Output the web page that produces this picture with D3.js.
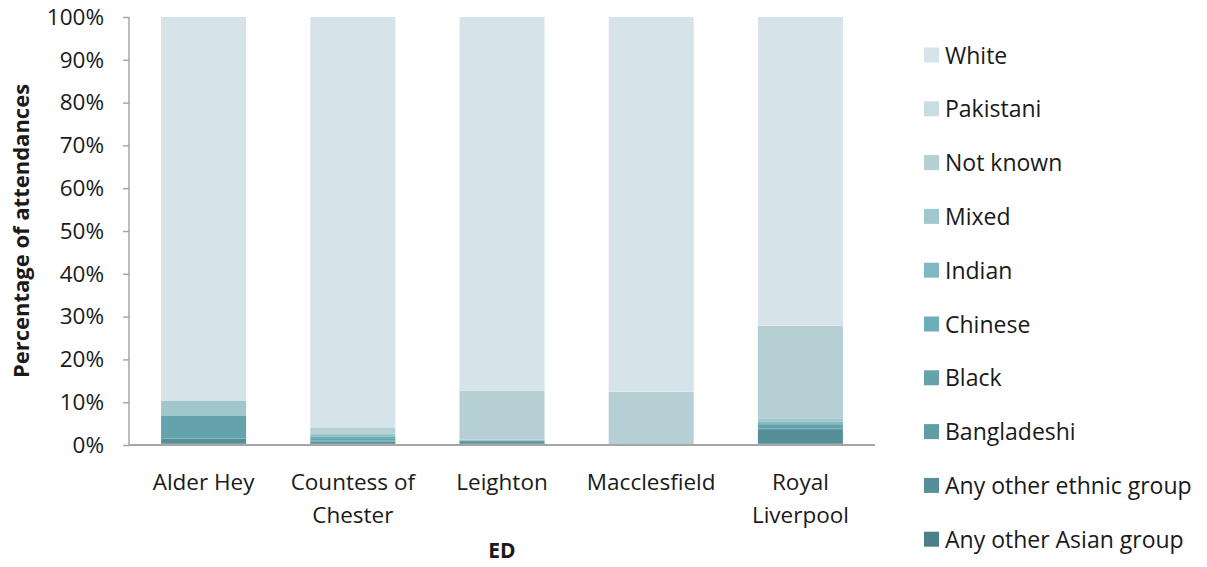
<!DOCTYPE html>
<html>
<head>
<meta charset="utf-8">
<script src="https://cdn.jsdelivr.net/npm/d3@7"></script>
<style>
  body { margin: 0; background: #fff; }
  text { font-family: "Open Sans", sans-serif; fill: #1a1a1a; }
</style>
</head>
<body>
<svg width="1207" height="567"></svg>
<script>
// categories (EDs)
let eds = ["Alder Hey", "Countess of Chester", "Leighton", "Macclesfield", "Royal Liverpool"];
let edLines = [["Alder Hey"], ["Countess of", "Chester"], ["Leighton"], ["Macclesfield"], ["Royal", "Liverpool"]];

// series, bottom of stack first
let groups = ["Any other Asian group", "Any other ethnic group", "Bangladeshi", "Black", "Chinese",
  "Indian", "Mixed", "Not known", "Pakistani", "White"];
let colours = ["#4d7f88", "#578f98", "#5f9ea5", "#64a3ab", "#6aaeb8",
  "#7fb8c0", "#a1c6cc", "#b5cfd5", "#c9dce1", "#d6e3e8"];

// percentages per ED (same order as eds)
let anyOtherAsian = [0.3, 0.3, 0.3, 0.02, 0.3];
let anyOtherEthnic = [1.1, 0.5, 0.6, 0.02, 3.2];
let bangladeshi = [0.1, 0.2, 0.05, 0.02, 0.3];
let black = [5.3, 0.6, 0.1, 0.02, 0.9];
let chinese = [0.1, 0.4, 0.05, 0.02, 0.4];
let indian = [0.1, 0.3, 0.1, 0.02, 0.4];
let mixed = [3.3, 0.3, 0.1, 0.02, 0.6];
let notKnown = [0.1, 1.5, 11.4, 12.3, 21.7];
let pakistani = [0.1, 0.1, 0.05, 0.02, 0.1];
let white = [89.5, 95.8, 87.25, 87.54, 72.1];

let yTicks = [0, 10, 20, 30, 40, 50, 60, 70, 80, 90, 100];

let series = [anyOtherAsian, anyOtherEthnic, bangladeshi, black, chinese, indian, mixed, notKnown, pakistani, white];

let rows = eds.map(function(ed, i) {
  let row = { ed: ed };
  groups.forEach(function(g, j) { row[g] = series[j][i]; });
  return row;
});

let svg = d3.select("svg");
let plotLeft = 129, plotRight = 875, plotTop = 17, plotBottom = 445;

let xScale = d3.scaleBand().domain(eds).range([plotLeft, plotRight]).paddingInner(0.43).paddingOuter(0.215);
let yScale = d3.scaleLinear().domain([0, 100]).range([plotBottom, plotTop]);

let stacked = d3.stack().keys(groups)(rows);

svg.append("g")
  .selectAll("g")
  .data(stacked)
  .enter()
  .append("g")
  .attr("fill", function(d, i) { return colours[i]; })
  .selectAll("rect")
  .data(function(d) { return d; })
  .enter()
  .append("rect")
  .attr("x", function(d) { return xScale(d.data.ed); })
  .attr("width", xScale.bandwidth())
  .attr("y", function(d) { return yScale(d[1]); })
  .attr("height", function(d) { return yScale(d[0]) - yScale(d[1]); });

// y axis
let yAxis = svg.append("g")
  .attr("transform", "translate(" + plotLeft + ",0)")
  .call(d3.axisLeft(yScale).tickValues(yTicks).tickSize(6).tickPadding(19)
    .tickFormat(function(d) { return d + "%"; }));
yAxis.selectAll("line, path").attr("stroke", "#a6a6a6").attr("stroke-width", 1.5);
yAxis.select("path").attr("d", "M0," + plotTop + "V" + plotBottom);
yAxis.selectAll("text").style("font-size", "22.5px").attr("fill", "#1a1a1a");

// x axis line
svg.append("line")
  .attr("x1", plotLeft).attr("x2", plotRight)
  .attr("y1", plotBottom).attr("y2", plotBottom)
  .attr("stroke", "#a6a6a6").attr("stroke-width", 2);

// x labels
svg.append("g")
  .selectAll("text")
  .data(eds)
  .enter()
  .append("text")
  .attr("text-anchor", "middle")
  .style("font-size", "22.5px")
  .attr("transform", function(d) { return "translate(" + (xScale(d) + xScale.bandwidth() / 2) + ",490)"; })
  .each(function(d, i) {
    let t = d3.select(this);
    edLines[i].forEach(function(line, k) {
      t.append("tspan").attr("x", 0).attr("dy", k === 0 ? 0 : 33).text(line);
    });
  });

// axis titles
svg.append("text")
  .attr("transform", "translate(29," + ((plotTop + plotBottom) / 2) + ") rotate(-90)")
  .attr("text-anchor", "middle")
  .style("font-size", "22px").style("font-weight", "bold")
  .text("Percentage of attendances");

svg.append("text")
  .attr("x", (plotLeft + plotRight) / 2).attr("y", 558)
  .attr("text-anchor", "middle")
  .style("font-size", "21px").style("font-weight", "bold")
  .text("ED");

// legend, top entry is top of stack
let legendGroups = groups.slice().reverse();
let legendColours = colours.slice().reverse();

let legend = svg.append("g")
  .selectAll("g")
  .data(legendGroups)
  .enter()
  .append("g")
  .attr("transform", function(d, i) { return "translate(924," + (55 + i * 53.8) + ")"; });

legend.append("rect")
  .attr("x", 0).attr("y", -7.5)
  .attr("width", 15).attr("height", 15)
  .attr("fill", function(d, i) { return legendColours[i]; });

legend.append("text")
  .attr("x", 21).attr("y", 8.5)
  .style("font-size", "23px")
  .text(function(d) { return d; });
</script>
</body>
</html>
